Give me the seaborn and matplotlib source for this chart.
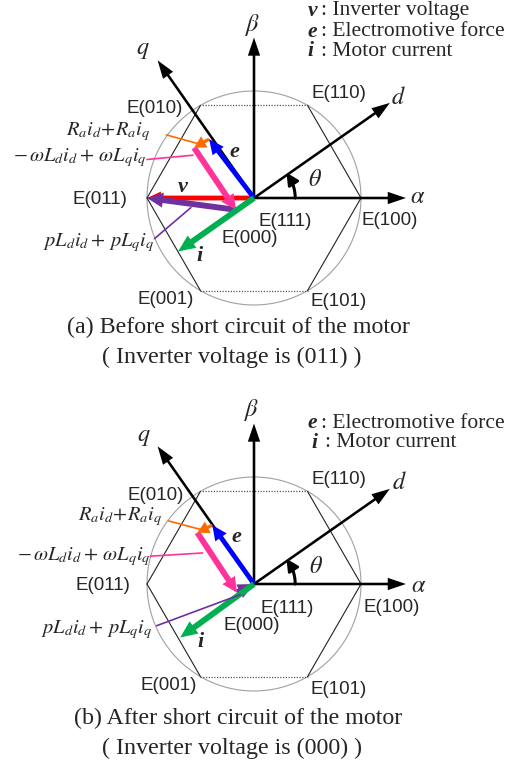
import numpy as np
import pandas as pd
import matplotlib
matplotlib.use("Agg")
import matplotlib.pyplot as plt
import seaborn as sns

# ---------------- data (units: hexagon circumradius = 1) ----------------
theta_deg = 35.0
hex_labels = ["E(100)", "E(110)", "E(010)", "E(011)", "E(001)", "E(101)"]
axis_names = ["alpha", "beta", "d", "q"]
axis_lengths = [1.42, 1.50, 1.55, 1.57]

# panel (a): before short circuit, inverter voltage (011)
a_e = [-0.42, 0.55]
a_Ri = [-0.14, -0.08]
a_wL = [0.39, -0.58]
a_pL = [-0.83, 0.11]
a_v = [-1.00, 0.00]
a_i = [-0.71, -0.50]

# panel (b): after short circuit, inverter voltage (000)
b_e = [-0.39, 0.55]
b_Ri = [-0.14, -0.07]
b_wL = [0.37, -0.56]
b_pL = [0.16, 0.08]
b_v = [0.00, 0.00]
b_i = [-0.69, -0.50]

caption_a = ["(a) Before short circuit of the motor", "( Inverter voltage is (011) )"]
caption_b = ["(b) After short circuit of the motor", "( Inverter voltage is (000) )"]
legend_a = [("v", ": Inverter voltage"), ("e", ": Electromotive force"), ("i", ": Motor current")]
legend_b = [("e", ": Electromotive force"), ("i", ": Motor current")]

# ---------------- style ----------------
sns.set_theme(style="white")
plt.rcParams["font.family"] = ["Liberation Sans", "DejaVu Sans"]
plt.rcParams["mathtext.fontset"] = "stix"

C_BLUE = "#0000ff"
C_ORANGE = "#ff6a00"
C_PINK = "#ff3399"
C_PURPLE = "#7030a0"
C_RED = "#ff0000"
C_GREEN = "#00b050"

W, H = 515, 764
U = 107.0
fig = plt.figure(figsize=(W / 100, H / 100), dpi=100)
half = 382
ax_top = fig.add_axes([0, half / H, 1, half / H])
ax_bot = fig.add_axes([0, 0, 1, half / H])
ax_top.set_xlim(-254 / U, (W - 254) / U)
ax_top.set_ylim(-(half - 198) / U, 198 / U)
ax_bot.set_xlim(-254 / U, (W - 254) / U)
ax_bot.set_ylim(-(H - 584) / U, (584 - half) / U)
for ax in (ax_top, ax_bot):
    ax.set_axis_off()


def arrow(ax, start, vec, color, width, hw, hl, z):
    if abs(vec[0]) + abs(vec[1]) < 1e-9:
        return
    ax.arrow(start[0], start[1], vec[0], vec[1], width=width, head_width=hw,
             head_length=hl, length_includes_head=True, color=color, lw=0, zorder=z)


def draw_frame(ax):
    t = np.linspace(0, 2 * np.pi, 361)
    circ = pd.DataFrame({"x": np.cos(t), "y": np.sin(t)})
    sns.lineplot(data=circ, x="x", y="y", sort=False, estimator=None, ax=ax,
                 color="#a0a0a0", lw=0.8, zorder=1)
    ang = np.deg2rad(np.arange(0, 420, 60))
    hx, hy = np.cos(ang), np.sin(ang)
    for k in range(6):
        seg = pd.DataFrame({"x": hx[k:k + 2], "y": hy[k:k + 2]})
        if k in (1, 4):
            ax.plot(seg.x, seg.y, color="#555555", lw=0.9, ls=(0, (1, 1.2)), zorder=1)
        else:
            sns.lineplot(data=seg, x="x", y="y", sort=False, estimator=None, ax=ax,
                         color="#222222", lw=0.8, zorder=1)
    # coordinate axes
    dirs = {"alpha": 0.0, "beta": 90.0, "d": theta_deg, "q": theta_deg + 90.0}
    for name, L in zip(axis_names, axis_lengths):
        a = np.deg2rad(dirs[name])
        arrow(ax, (0, 0), (L * np.cos(a), L * np.sin(a)), "black", 0.024, 0.115, 0.17, 3)
    # theta arc
    r = 0.385
    ta = np.deg2rad(np.linspace(0, 28, 30))
    ax.plot(r * np.cos(ta), r * np.sin(ta), color="black", lw=2.2, zorder=3)
    a1, a2 = np.deg2rad(27), np.deg2rad(38)
    ax.annotate("", xy=(r * np.cos(a2), r * np.sin(a2)), xytext=(r * np.cos(a1), r * np.sin(a1)),
                arrowprops=dict(arrowstyle="-|>", color="black", lw=2, mutation_scale=18,
                                shrinkA=0, shrinkB=0), zorder=3)


def draw_vectors(ax, e, Ri, wL, pL, v, i):
    p1 = np.array(e)
    p2 = p1 + np.array(Ri)
    p3 = p2 + np.array(wL)
    arrow(ax, (0, 0), v, C_RED, 0.045, 0.12, 0.13, 4)
    arrow(ax, p3, pL, C_PURPLE, 0.055, 0.14, 0.15, 5)
    arrow(ax, p2, wL, C_PINK, 0.055, 0.14, 0.14, 6)
    arrow(ax, p1, Ri, C_ORANGE, 0.03, 0.12, 0.11, 7)
    arrow(ax, (0, 0), e, C_BLUE, 0.045, 0.13, 0.14, 8)
    arrow(ax, (0, 0), i, C_GREEN, 0.055, 0.14, 0.16, 9)


sans = dict(family=["Liberation Sans", "DejaVu Sans"], fontsize=13.5)
serif = ["Liberation Serif", "DejaVu Serif"]
mathfs = 14.7


def labels(ax, pos, hexpos, vlab, leaders, leg, legpos):
    for s, (x, y) in zip(["$\\beta$", "$q$", "$d$", "$\\alpha$", "$\\theta$"], pos):
        ax.text(x, y, s, fontsize=17.5, ha="center", va="center", zorder=10)
    for s, (x, y) in zip(hex_labels, hexpos):
        ax.text(x, y, s, ha="center", va="center", zorder=10, **sans)
    for s, (x, y) in vlab:
        ax.text(x, y, s, family=serif, fontstyle="italic", fontweight="bold",
                fontsize=16, ha="center", va="center", zorder=10)
    for txt, col, (x0, y0), (x1, y1), (tx, ty) in leaders:
        ax.plot([x0, x1], [y0, y1], color=col, lw=1.2, zorder=9)
        ax.text(tx, ty, txt, fontsize=mathfs, ha="right", va="center", zorder=10)
    for (sym, rest), (x, y) in zip(leg, legpos):
        ax.text(x, y, sym, family=serif, fontstyle="italic", fontweight="bold",
                fontsize=15.5, ha="left", va="center")
        ax.text(x + 0.125, y, rest, family=serif, fontsize=15.5, ha="left", va="center")


lab_R = r"$R_a i_d\!+\!R_a i_q$"
lab_w = r"$-\,\omega L_d i_d+\,\omega L_q i_q$"
lab_p = r"$pL_d i_d+\,pL_q i_q$"

# ---- panel (a)
draw_frame(ax_top)
draw_vectors(ax_top, a_e, a_Ri, a_wL, a_pL, a_v, a_i)
labels(ax_top,
       [(-0.01, 1.62), (-1.04, 1.38), (1.35, 0.93), (1.53, 0.01), (0.57, 0.17)],
       [(1.27, -0.21), (0.79, 0.98), (-0.93, 0.84), (-1.44, -0.01), (-0.83, -0.95), (0.79, -0.97)],
       [("v", (-0.67, 0.10)), ("e", (-0.18, 0.43)), ("i", (-0.51, -0.54))],
       [(lab_R, C_ORANGE, (-0.82, 0.59), (-0.53, 0.51), (-0.97, 0.62)),
        (lab_w, C_PINK, (-1.00, 0.36), (-0.57, 0.40), (-1.00, 0.38)),
        (lab_p, C_PURPLE, (-0.93, -0.38), (-0.59, -0.09), (-0.93, -0.42))],
       legend_a, [(0.50, 1.75), (0.50, 1.555), (0.50, 1.37)])
ax_top.text(0.29, -0.22, "E(111)", ha="center", va="center", zorder=10, **sans)
ax_top.text(-0.04, -0.38, "E(000)", ha="center", va="center", zorder=10, **sans)

# ---- panel (b)
draw_frame(ax_bot)
draw_vectors(ax_bot, b_e, b_Ri, b_wL, b_pL, b_v, b_i)
labels(ax_bot,
       [(-0.02, 1.63), (-1.03, 1.37), (1.36, 0.94), (1.54, -0.02), (0.58, 0.16)],
       [(1.29, -0.22), (0.79, 0.98), (-0.92, 0.83), (-1.41, -0.01), (-0.80, -0.95), (0.79, -0.99)],
       [("e", (-0.16, 0.44)), ("i", (-0.50, -0.54))],
       [(lab_R, C_ORANGE, (-0.80, 0.59), (-0.50, 0.51), (-0.86, 0.63)),
        (lab_w, C_PINK, (-0.97, 0.26), (-0.48, 0.29), (-0.97, 0.26)),
        (lab_p, C_PURPLE, (-0.91, -0.39), (-0.13, -0.10), (-0.95, -0.43))],
       legend_b, [(0.50, 1.50), (0.54, 1.32)])
ax_bot.text(0.31, -0.23, "E(111)", ha="center", va="center", zorder=10, **sans)
ax_bot.text(-0.02, -0.39, "E(000)", ha="center", va="center", zorder=10, **sans)

# captions
fig.text(238 / W, 1 - 327 / H, caption_a[0], family=serif, fontsize=17.3, ha="center", va="center")
fig.text(232 / W, 1 - 357 / H, caption_a[1], family=serif, fontsize=17.3, ha="center", va="center")
fig.text(238 / W, 1 - 718 / H, caption_b[0], family=serif, fontsize=17.3, ha="center", va="center")
fig.text(232 / W, 1 - 748 / H, caption_b[1], family=serif, fontsize=17.3, ha="center", va="center")

fig.savefig("out.png", dpi=100)
